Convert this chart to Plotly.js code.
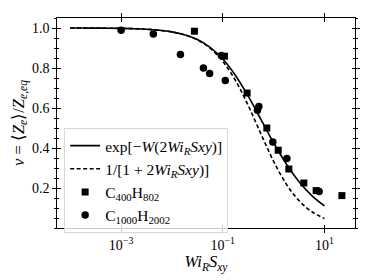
<!DOCTYPE html>
<html><head><meta charset="utf-8">
<script src="https://cdn.plot.ly/plotly-3.0.1.min.js"></script>
<style>html,body{margin:0;padding:0;background:#fff}#plot{width:374px;height:280px}</style>
</head><body><div id="plot"></div>
<script>
// Theory curves (sampled values)
const curveX = [1e-4,1.778e-4,3.162e-4,5.623e-4,1e-3,1.778e-3,3.162e-3,5.623e-3,0.01,0.01778,0.03162,0.05623,0.1,0.1778,0.3162,0.5623,1,1.778,3.162,5.623,10];
const expW = [0.9998,0.99964,0.99937,0.99888,0.99801,0.99646,0.99373,0.98894,0.98058,0.96621,0.94215,0.90339,0.84458,0.76247,0.65910,0.54298,0.42630,0.32018,0.23140,0.16189,0.11025];
const invLin = [0.9998,0.99964,0.99937,0.99888,0.99800,0.99646,0.99371,0.98888,0.98039,0.96565,0.94051,0.89890,0.83333,0.73763,0.61256,0.47065,0.33333,0.21944,0.13652,0.08165,0.04762];
// C400H802
const sqX = [0.0277,0.108,0.301,0.734,1.23,1.99,3.93,6.86,22.0];
const sqY = [0.984,0.859,0.675,0.500,0.389,0.295,0.225,0.187,0.162];
// C1000H2002
const ciX = [0.001,0.00431,0.0147,0.0416,0.0551,0.094,0.112,0.512,0.481,0.964,1.82,7.85];
const ciY = [0.989,0.970,0.867,0.800,0.773,0.863,0.738,0.607,0.589,0.430,0.348,0.182];
const xTickVals = [1e-3,1e-1,1e1];
const xTickText = ['10<sup>−3</sup>','10<sup>−1</sup>','10<sup>1</sup>'];
const yTickVals = [0.2,0.4,0.6,0.8,1.0];
const yTickText = ['0.2','0.4','0.6','0.8','1.0'];

const F = 'Liberation Serif, Times New Roman, serif';
const traces = [
 {x:curveX,y:expW,mode:'lines',line:{color:'#000',width:1.6,shape:'spline'},
  name:'exp[−<i>W</i>(2<i>Wi</i><sub><i>R</i></sub><i>Sxy</i>)]'},
 {x:curveX,y:invLin,mode:'lines',line:{color:'#000',width:1.6,dash:'4px,2.5px',shape:'spline'},
  name:'1/[1 + 2<i>Wi</i><sub><i>R</i></sub><i>Sxy</i>)]'},
 {x:sqX,y:sqY,mode:'markers',marker:{symbol:'square',size:7,color:'#000'},
  name:'C<sub>400</sub>H<sub>802</sub>'},
 {x:ciX,y:ciY,mode:'markers',marker:{symbol:'circle',size:7.5,color:'#000'},
  name:'C<sub>1000</sub>H<sub>2002</sub>'},
 {x:[null],y:[null],xaxis:'x2',yaxis:'y2',showlegend:false,hoverinfo:'skip',mode:'markers'}
];
const xr=[-4.26,1.60], yr=[0,1.05];
const layout = {
 width:374,height:280,
 margin:{l:57,r:19,t:18,b:52},
 paper_bgcolor:'#fff',plot_bgcolor:'#fff',
 font:{family:F,size:14,color:'#000'},
 showlegend:true,
 legend:{x:0.024,y:0.476,xanchor:'left',yanchor:'top',bgcolor:'rgba(255,255,255,0.8)',
   bordercolor:'#d8d8d8',borderwidth:1,font:{family:F,size:15.5},tracegroupgap:0,itemwidth:30},
 xaxis:{type:'log',range:xr,tickvals:xTickVals,ticktext:xTickText,ticks:'outside',ticklen:3.5,
   tickwidth:1,tickcolor:'#000',showline:true,linecolor:'#000',linewidth:1.2,mirror:'ticks',
   showgrid:false,zeroline:false,tickfont:{family:F,size:14},
   title:{text:'<i>Wi</i><sub><i>R</i></sub><i>S</i><sub><i>xy</i></sub>',font:{family:F,size:16.5},standoff:3}},
 yaxis:{range:yr,tickvals:yTickVals,ticktext:yTickText,ticks:'outside',ticklen:3.5,tickwidth:1,
   tickcolor:'#000',showline:true,linecolor:'#000',linewidth:1.2,mirror:'ticks',showgrid:false,zeroline:false,
   tickfont:{family:F,size:14},
   minor:{dtick:0.05,ticks:'outside',ticklen:2,tickcolor:'#000',tickwidth:1},
   title:{text:'<i>ν</i> = ⟨<i>Z</i><sub><i>e</i></sub>⟩/<i>Z</i><sub><i>e,eq</i></sub>',font:{family:F,size:16.5},standoff:3}},
 xaxis2:{type:'log',range:xr,overlaying:'x',anchor:'y2',tickvals:xTickVals,showticklabels:false,
   ticks:'inside',ticklen:3.5,tickwidth:1,tickcolor:'#000',mirror:'ticks',showline:false,showgrid:false,zeroline:false},
 yaxis2:{range:yr,overlaying:'y',anchor:'x2',tickvals:yTickVals,showticklabels:false,ticks:'inside',ticklen:3.5,
   tickwidth:1,tickcolor:'#000',mirror:'ticks',showline:false,showgrid:false,zeroline:false,
   minor:{dtick:0.05,ticks:'inside',ticklen:2,tickcolor:'#000',tickwidth:1}}
};
Plotly.newPlot('plot',traces,layout,{staticPlot:true,displayModeBar:false});
</script></body></html>
